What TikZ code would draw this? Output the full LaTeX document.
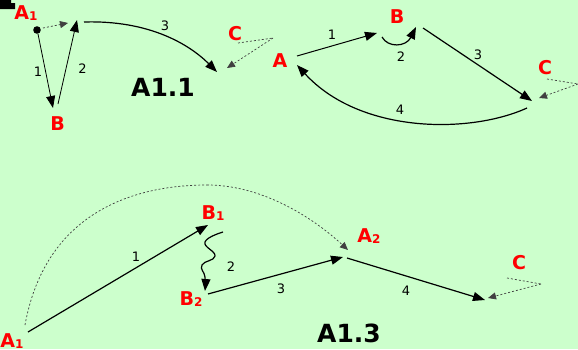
\documentclass[tikz,border=0pt]{standalone}
\usepackage{fontspec}
\setmainfont{DejaVu Sans}
\usetikzlibrary{arrows.meta}
\definecolor{bgg}{HTML}{CCFFCC}
\definecolor{lblred}{HTML}{FF0000}
\newcommand\subn[1]{\raisebox{-1.5pt}{\fontsize{12}{12}\selectfont #1}}
\tikzset{
  lbl/.style={text=lblred,font=\fontsize{19}{19}\selectfont\bfseries,inner sep=0pt,anchor=center},
  num/.style={font=\fontsize{13}{13}\selectfont,inner sep=0pt,anchor=center},
  big/.style={font=\fontsize{25}{25}\selectfont\bfseries,inner sep=0pt,anchor=center},
  arr/.style={line width=1.2pt,-{Triangle[length=12pt,width=9pt]}},
  tarr/.style={line width=0.8pt,-{Triangle[length=12pt,width=9pt]}},
  darr/.style={line width=0.7pt,black!75,dash pattern=on 2pt off 2pt,-{Triangle[length=8pt,width=7pt]}},
  dln/.style={line width=0.7pt,black!75,dash pattern=on 2pt off 2pt},
}
\begin{document}
\begin{tikzpicture}[x=1pt,y=-1pt]
\fill[bgg] (0,0) rectangle (578,349);
\useasboundingbox (0,0) rectangle (578,349);
% cropped mark top-left
\fill[black] (0,0) -- (11,0) -- (11,3) -- (15,3) -- (15,9) -- (0,9) -- cycle;

% ---------- A1.1 ----------
\node[lbl] (a1) at (26,13) {A\subn{1}};
\node[lbl] (b1) at (57.5,124) {B};
\node[lbl] (c1) at (235,34) {C};
\node[big] (t1) at (163,87) {A1.1};
\node[num] (n11) at (38,72) {1};
\node[num] (n12) at (82.5,69) {2};
\node[num] (n13) at (165,26) {3};
\fill (37,30) circle (3.8pt);
\coordinate (d1s) at (43,28);
\coordinate (d1e) at (68,23);
\coordinate (p1s) at (38,34);
\coordinate (p1e) at (53,108);
\coordinate (p2s) at (58,104);
\coordinate (p2e) at (77,20);
\coordinate (p3s) at (84,22);
\coordinate (p3e) at (217,72);
\coordinate (q1) at (238,43);
\coordinate (q2) at (273,38);
\coordinate (q3) at (227,68);
\draw[darr] (d1s) -- (d1e);
\draw[tarr] (p1s) -- (p1e);
\draw[tarr] (p2s) -- (p2e);
\draw[arr] (p3s) .. controls (150,20) and (190,45) .. (p3e);
\draw[dln] (q1) -- (q2);
\draw[darr] (q2) -- (q3);

% ---------- A1.2 ----------
\node[lbl] (a2) at (280,61) {A};
\node[lbl] (b2) at (397,17) {B};
\node[lbl] (c2) at (545,68) {C};
\node[num] (n21) at (332,35) {1};
\node[num] (n22) at (401,57) {2};
\node[num] (n23) at (478,55) {3};
\node[num] (n24) at (400,110) {4};
\coordinate (r1s) at (297,56);
\coordinate (r1e) at (377,33);
\coordinate (r2s) at (382,37);
\coordinate (r2e) at (416,27);
\coordinate (r3s) at (423,28);
\coordinate (r3e) at (532,101);
\coordinate (r4s) at (527,108);
\coordinate (r4e) at (297,65);
\coordinate (s1) at (547,79);
\coordinate (s2) at (578,84);
\coordinate (s3) at (539,98);
\draw[arr,line width=1pt] (r1s) -- (r1e);
\draw[arr] (r2s) .. controls (388,48) and (406,47) .. (r2e);
\draw[arr] (r3s) -- (r3e);
\draw[arr] (r4s) .. controls (470,134) and (360,134) .. (r4e);
\draw[dln] (s1) -- (s2);
\draw[darr] (s2) -- (s3);

% ---------- A1.3 ----------
\node[lbl] (a3) at (12,341) {A\subn{1}};
\node[lbl] (b31) at (213,213) {B\subn{1}};
\node[lbl] (b32) at (191,299) {B\subn{2}};
\node[lbl] (a32) at (369,236) {A\subn{2}};
\node[lbl] (c3) at (519,263) {C};
\node[big] (t3) at (349,333) {A1.3};
\node[num] (n31) at (136,257) {1};
\node[num] (n32) at (231,267) {2};
\node[num] (n33) at (281,289) {3};
\node[num] (n34) at (406,291) {4};
\coordinate (u1s) at (28,332);
\coordinate (u1e) at (208,225);
\coordinate (u2s) at (223,232);
\coordinate (u2e) at (205,291);
\coordinate (u3s) at (208,294);
\coordinate (u3e) at (343,257);
\coordinate (u4s) at (347,258);
\coordinate (u4e) at (485,300);
\coordinate (v1) at (507,278);
\coordinate (v2) at (541,284);
\coordinate (v3) at (488,298);
\coordinate (w1) at (25,325);
\coordinate (w2) at (207,185);
\coordinate (w3) at (348,250);
\draw[arr] (u1s) -- (u1e);
\draw[arr] plot[smooth,tension=0.8] coordinates {(u2s) (205,242) (215,256) (202,265) (205,277) (u2e)};
\draw[arr] (u3s) -- (u3e);
\draw[arr] (u4s) -- (u4e);
\draw[dln] (v1) -- (v2);
\draw[darr] (v2) -- (v3);
\draw[dln] (w1) .. controls (45,215) and (130,185) .. (w2);
\draw[darr] (w2) .. controls (260,185) and (310,215) .. (w3);
\end{tikzpicture}
\end{document}
